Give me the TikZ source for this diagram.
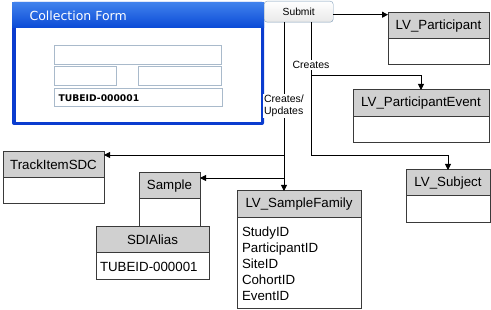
\documentclass[tikz,border=0pt]{standalone}
\usepackage{fontspec}
\setmainfont{Liberation Sans}
\newfontfamily\formfont{DejaVu Sans}
\usetikzlibrary{calc, arrows.meta, positioning}

\definecolor{hdrgray}{HTML}{D0D0D0}
\definecolor{lineg}{HTML}{3A3A3A}
\definecolor{winblue}{HTML}{0A3CCF}
\definecolor{bartop}{HTML}{3F80EC}
\definecolor{barbot}{HTML}{0A4AD6}
\definecolor{fieldb}{HTML}{A9BACB}
\definecolor{btnb}{HTML}{7F9DB9}

\begin{document}
\begin{tikzpicture}[x=1pt, y=-1pt,
    hdr/.style={draw=lineg, fill=hdrgray, line width=1pt, outer sep=0pt, inner sep=0pt,
                anchor=north west, font=\fontsize{13.3}{16}\selectfont},
    tbody/.style={draw=lineg, fill=white, line width=1pt, outer sep=0pt, inner sep=0pt},
    fieldbox/.style={draw=fieldb, line width=1.4pt, fill=white, anchor=north west, inner sep=0pt},
    lbl/.style={fill=white, inner sep=1pt, font=\fontsize{10.5}{12}\selectfont},
    arr/.style={-{Triangle[length=6pt, width=6pt]}, line width=0.9pt}]
    \useasboundingbox (0,0) rectangle (491,310);

    % collection form window
    \fill[winblue, rounded corners=2pt] (12,2) rectangle (264,125);
    \shade[top color=bartop, bottom color=barbot] (12,3) rectangle (264,28);
    \fill[white] (15.5,28) rectangle (260.5,122);
    \node[anchor=west, text=white, font=\formfont\fontsize{12.5}{14}\selectfont] (title) at (26,16) {Collection Form};
    \node[fieldbox, minimum width=167pt, minimum height=19pt] (f1) at (54,45) {};
    \node[fieldbox, minimum width=62pt, minimum height=19pt] (f2) at (54,66) {};
    \node[fieldbox, minimum width=83pt, minimum height=19pt] (f3) at (138,66) {};
    \node[fieldbox, minimum width=167pt, minimum height=18pt, align=left, text width=160pt,
          inner xsep=4pt, font=\formfont\bfseries\fontsize{9.2}{11}\selectfont] (f4) at (54,88) {TUBEID-000001};

    \node[draw=btnb, rounded corners=3pt, top color=white, bottom color=gray!18, anchor=north west,
          minimum width=69pt, minimum height=21pt, inner sep=0pt, font=\fontsize{10.3}{12}\selectfont]
          (submit) at (264,1) {Submit};

    % tables
    \node[hdr, minimum width=101pt, minimum height=26pt] (part) at (388,13) {LV\_Participant};
    \node[tbody, minimum width=101pt, minimum height=26pt, below=0pt of part] (partb) {};

    \node[hdr, minimum width=136pt, minimum height=27pt] (pevent) at (353,90) {LV\_ParticipantEvent};
    \node[tbody, minimum width=136pt, minimum height=26pt, below=0pt of pevent] (peventb) {};

    \node[hdr, minimum width=84pt, minimum height=26pt] (subj) at (406,170) {LV\_Subject};
    \node[tbody, minimum width=84pt, minimum height=27pt, below=0pt of subj] (subjb) {};

    \node[hdr, minimum width=124pt, minimum height=27pt] (sfam) at (237,191) {LV\_SampleFamily};
    \node[tbody, minimum width=124pt, minimum height=91pt, text width=114pt, inner xsep=5pt,
          align=left, font=\fontsize{13.3}{16}\selectfont, below=0pt of sfam] (sfamb)
          {StudyID\\ParticipantID\\SiteID\\CohortID\\EventID};

    \node[hdr, minimum width=101pt, minimum height=26pt] (track) at (3,152) {TrackItemSDC};
    \node[tbody, minimum width=101pt, minimum height=26pt, below=0pt of track] (trackb) {};

    \node[hdr, minimum width=61pt, minimum height=26pt] (sample) at (139,173) {Sample};
    \node[tbody, minimum width=61pt, minimum height=28pt, below=0pt of sample] (sampleb) {};

    \node[hdr, minimum width=113pt, minimum height=26pt] (alias) at (96,227) {SDIAlias};
    \node[tbody, minimum width=113pt, minimum height=27pt, text width=105pt, inner xsep=4pt,
          align=left, font=\fontsize{13.3}{16}\selectfont, below=0pt of alias] (aliasb) {TUBEID-000001};

    % connectors
    \coordinate (s1) at ([xshift=20pt]submit.south west);
    \coordinate (s2) at ([xshift=47pt]submit.south west);
    \coordinate (j1) at (s1 |- 0,155);
    \coordinate (j2) at (s1 |- 0,178);
    \coordinate (k1) at (s2 |- 0,75);
    \coordinate (k2) at (s2 |- 0,155);

    \draw[arr] ([yshift=-3pt]submit.east) -- ([yshift=-3pt]submit.east -| part.west);
    \draw[arr] (s2) -- (k2) -| (subj.north);
    \draw[arr] (k1) -| (pevent.north);
    \draw[arr] (s1) -- (s1 |- sfam.north);
    \draw[arr] (j1) -- (j1 -| track.east);
    \draw[arr] (j2) -- (j2 -| sample.east);

    \node[lbl] (lcreates) at (s2 |- 0,65) {Creates};
    \node[lbl, align=left] (lupdates) at (s1 |- 0,106) {Creates/\\Updates};
\end{tikzpicture}
\end{document}
